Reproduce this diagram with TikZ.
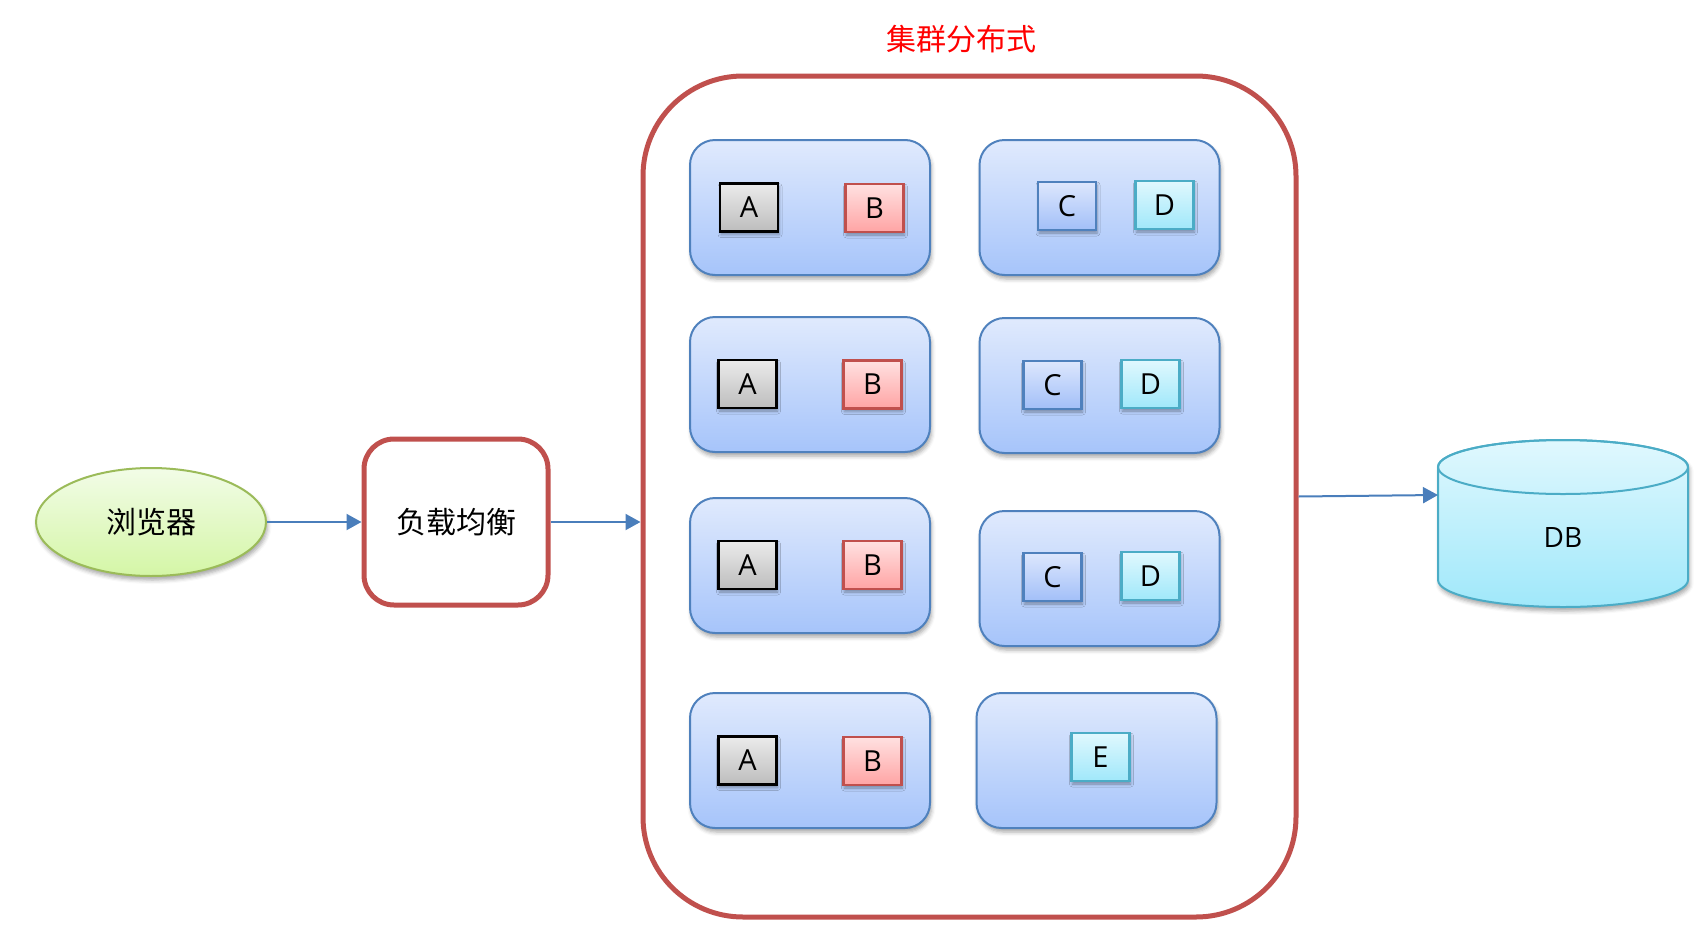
\documentclass[tikz,border=0pt]{standalone}
\usepackage{fontspec}
\setmainfont{Open Sans}
\newfontfamily\cjk{Noto Sans CJK SC}
\usetikzlibrary{arrows.meta,shadows.blur,shapes.geometric}
\definecolor{clred}{HTML}{C0504D}
\definecolor{srvline}{HTML}{4F81BD}
\definecolor{srvtop}{HTML}{E0EAFD}
\definecolor{srvbot}{HTML}{A6C4FA}
\definecolor{atop}{HTML}{EBEBEB}
\definecolor{abot}{HTML}{BDBDBD}
\definecolor{btop}{HTML}{FFE1E1}
\definecolor{bbot}{HTML}{FFA4A4}
\definecolor{ctop}{HTML}{DDE7FD}
\definecolor{cbot}{HTML}{A2BFF8}
\definecolor{dline}{HTML}{4BACC6}
\definecolor{dtop}{HTML}{E0F8FE}
\definecolor{dbot}{HTML}{A0E8FA}
\definecolor{gline}{HTML}{9BBB59}
\definecolor{gtop}{HTML}{F2FCE7}
\definecolor{gbot}{HTML}{D4F6A6}
\definecolor{arrowblue}{HTML}{4A7EBB}
\definecolor{titlered}{HTML}{FF0000}
\begin{document}
\begin{tikzpicture}[x=1pt,y=-1pt,
  softshadow/.style={blur shadow={shadow xshift=1.5pt, shadow yshift=-4pt, shadow blur radius=4pt, shadow opacity=35}},
  server/.style={draw=srvline, line width=2pt, rounded corners=25pt, top color=srvtop, bottom color=srvbot, minimum width=240pt, minimum height=135pt, softshadow},
  comp/.style={line width=2.5pt, minimum width=58pt, minimum height=48pt, inner sep=0pt, font=\fontsize{29}{34}\selectfont, blur shadow={shadow xshift=1pt, shadow yshift=-3pt, shadow blur radius=3pt, shadow opacity=35}},
  compA/.style={comp, draw=black, top color=atop, bottom color=abot},
  compB/.style={comp, draw=clred, top color=btop, bottom color=bbot},
  compC/.style={comp, draw=srvline, top color=ctop, bottom color=cbot},
  compD/.style={comp, draw=dline, top color=dtop, bottom color=dbot},
  link/.style={draw=arrowblue, line width=2pt, -{Triangle[length=15pt,width=16pt]}},
  cjktext/.style={font=\cjk\fontsize{30}{36}\selectfont}
]
\useasboundingbox (0,0) rectangle (1698,924);

% title
\node[cjktext, text=titlered] (title) at (961,39) {集群分布式};

% cluster
\node[draw=clred, line width=5pt, rounded corners=100pt, minimum width=653pt, minimum height=841pt, inner sep=0pt] (cluster) at (969.5,496.5) {};

% browser
\node[ellipse, draw=gline, line width=2pt, top color=gtop, bottom color=gbot, minimum width=230pt, minimum height=108pt, softshadow, cjktext] (browser) at (151,522) {浏览器};

% load balancer
\node[draw=clred, line width=5pt, rounded corners=30pt, fill=white, minimum width=184pt, minimum height=166pt, cjktext] (lb) at (456,522) {负载均衡};

% servers
\node[server] (s11) at (810,207.5) {};
\node[server] (s12) at (1099.5,207.5) {};
\node[server] (s21) at (810,384.5) {};
\node[server] (s22) at (1099.5,385.5) {};
\node[server] (s31) at (810,565.5) {};
\node[server] (s32) at (1099.5,578.5) {};
\node[server] (s41) at (810,760.5) {};
\node[server] (s42) at (1096.5,760.5) {};

% components
\node[compA] (a1) at (749,207.5) {A};
\node[compB] (b1) at (874.5,208) {B};
\node[compC] (c1) at (1067,206) {C};
\node[compD] (d1) at (1164.5,205) {D};

\node[compA] (a2) at (747.5,384) {A};
\node[compB] (b2) at (872.5,384.5) {B};
\node[compC] (c2) at (1052.5,385) {C};
\node[compD] (d2) at (1150.5,384) {D};

\node[compA] (a3) at (747.5,565) {A};
\node[compB] (b3) at (872.5,565) {B};
\node[compC] (c3) at (1052.5,577) {C};
\node[compD] (d3) at (1150.5,576) {D};

\node[compA] (a4) at (747.5,760.5) {A};
\node[compB] (b4) at (872.5,761) {B};
\node[compD] (e4) at (1100.5,757) {E};

% database cylinder
\path[draw=dline, line width=2pt, top color=dtop, bottom color=dbot, softshadow]
  (1438,467) -- (1438,580) arc[start angle=180, end angle=360, x radius=125pt, y radius=27pt]
  -- (1688,467) arc[start angle=0, end angle=180, x radius=125pt, y radius=27pt] -- cycle;
\draw[dline, line width=2pt] (1563,467) ellipse [x radius=125pt, y radius=27pt];
\node[font=\fontsize{28}{34}\selectfont] (db) at (1563,537) {DB};
\coordinate (dbin) at (1438,495);

% connectors
\draw[link] (browser.east) -- (lb.west);
\draw[link] (lb.east) -- (lb.east -| cluster.west);
\draw[link] (cluster.east) -- (dbin);
\end{tikzpicture}
\end{document}
